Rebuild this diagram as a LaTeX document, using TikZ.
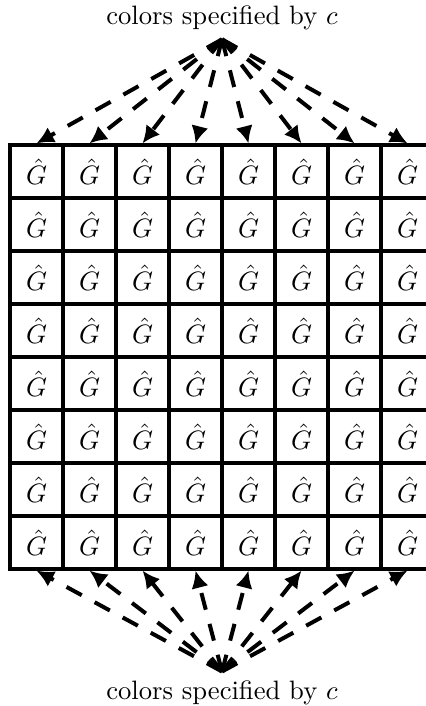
\documentclass[tikz,border=0pt]{standalone}
\usetikzlibrary{arrows.meta}
\begin{document}
\begin{tikzpicture}[x=0.7cm,y=0.7cm,
    cell/.style={draw,very thick,minimum size=0.7cm,inner sep=0pt},
    colarrow/.style={-{Latex[length=6.5pt,width=6.5pt]},line width=1.5pt,dash pattern=on 6.5pt off 5.5pt}]
    \useasboundingbox (-0.189,-2.585) rectangle (7.830,10.736);
    % Cuadricula de celdas
    \foreach \i in {1,...,8}{
        \foreach \j in {1,...,8}{
            \node[cell] (c-\i-\j) at (\i-0.5,8.5-\j) {$\hat{G}$};
        }
    }
    % Etiquetas de colores
    \node (top) at (4,10.40) {colors specified by $c$};
    \node (bot) at (4,-2.34) {colors specified by $c$};
    % Flechas
    \foreach \i in {1,...,8}{
        \draw[colarrow] (top.south) -- (c-\i-1.north);
        \draw[colarrow] (bot.north) -- (c-\i-8.south);
    }
\end{tikzpicture}
\end{document}
